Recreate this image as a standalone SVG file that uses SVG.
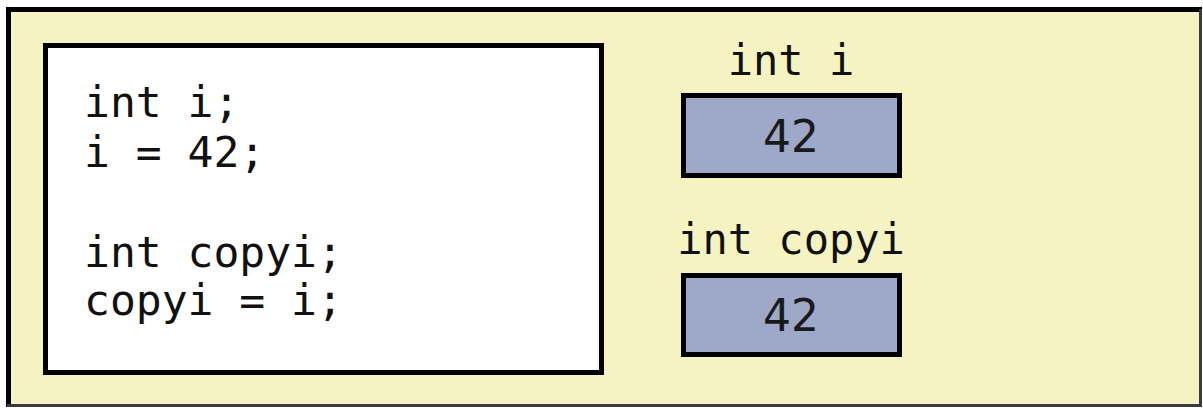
<svg xmlns="http://www.w3.org/2000/svg" width="1203" height="408" viewBox="0 0 1203 408">
  <style>
    .code { font-family: "DejaVu Sans Mono", "Liberation Mono", monospace; font-size: 43px; fill: #111; }
    .val { font-family: "DejaVu Sans", "Liberation Sans", sans-serif; font-size: 44px; fill: #1a1a1a; text-anchor: middle; }
    .lbl { font-family: "DejaVu Sans Mono", "Liberation Mono", monospace; font-size: 42px; fill: #111; text-anchor: middle; }
    .cell { fill: #9ea8c8; stroke: #000; stroke-width: 5; }
  </style>
  <g id="frame">
    <rect x="8.5" y="9.5" width="1192" height="396" fill="#f5f3c2"/>
    <line x1="6" y1="9.5" x2="1202" y2="9.5" stroke="#000" stroke-width="5"/>
    <line x1="8.5" y1="7" x2="8.5" y2="407" stroke="#000" stroke-width="5"/>
    <line x1="1200.5" y1="9" x2="1200.5" y2="407" stroke="#3a3a3a" stroke-width="3"/>
    <line x1="7" y1="405.5" x2="1202" y2="405.5" stroke="#3a3a3a" stroke-width="3"/>
  </g>
  <g id="code-box">
    <rect x="45.5" y="45.5" width="556" height="327" fill="#fff" stroke="#000" stroke-width="5"/>
    <text class="code" x="84" y="117">int i;</text>
    <text class="code" x="84" y="167">i = 42;</text>
    <text class="code" x="84" y="267">int copyi;</text>
    <text class="code" x="84" y="315">copyi = i;</text>
  </g>
  <g id="var-i">
    <text class="lbl" x="791" y="75">int i</text>
    <rect class="cell" x="683.5" y="95.5" width="216" height="80"/>
    <text class="val" x="791" y="152">42</text>
  </g>
  <g id="var-copyi">
    <text class="lbl" x="791" y="254">int copyi</text>
    <rect class="cell" x="683.5" y="275.5" width="216" height="79"/>
    <text class="val" x="791" y="331">42</text>
  </g>
  <g id="connectors"></g>
</svg>
